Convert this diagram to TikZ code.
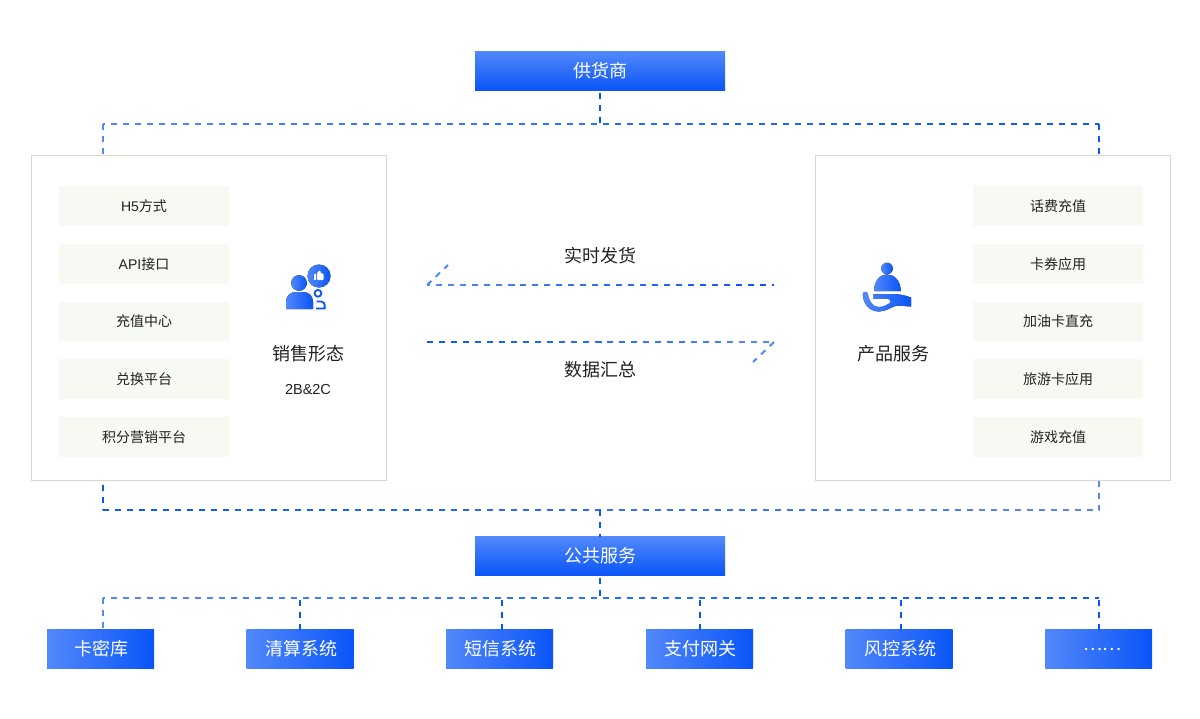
\documentclass[tikz,border=0pt]{standalone}
\usepackage{fontspec}
\setmainfont{Noto Sans CJK SC}
\newfontfamily\latinfont{Liberation Sans}
\usetikzlibrary{calc,positioning}
\definecolor{BlueDeep}{HTML}{0A55F8}
\definecolor{BlueLight}{HTML}{5288FA}
\definecolor{PanelLine}{HTML}{D8D8C8}
\definecolor{ItemFill}{HTML}{F7F9F3}
\definecolor{InkDark}{HTML}{222222}
% dashed line cut in short pieces, colour running from #5 to #4; #3 is its length
\newcommand{\gradline}[6][0]{%
  \foreach \i [evaluate=\i as \t using {\i/8}, evaluate=\i as \p using {(\i-.5)*12.5}, remember=\t as \s (initially 0)] in {1,...,8}
    {\colorlet{segcol}{#6!\p!#5}\pgfmathsetmacro\ph{#1+\s*#4}\draw[dashline,segcol,dash phase=\ph pt] ($(#2)!\s!(#3)$)--($(#2)!\t!(#3)$);}}
\begin{document}
\begin{tikzpicture}[x=1pt,y=-1pt,node distance=18.15pt and 18pt,outer sep=0pt,
    dashline/.style={line width=2pt,dash pattern=on 6pt off 6pt},
    vbox/.style={minimum width=250pt,minimum height=39pt,inner sep=0pt,top color=BlueLight,bottom color=BlueDeep,text=white,font=\fontsize{18}{20}\selectfont},
    hbox/.style={minimum width=107pt,minimum height=39pt,inner sep=0pt,left color=BlueLight,right color=BlueDeep,text=white,font=\fontsize{18}{20}\selectfont,execute at begin node={\kern2.5pt}},
    panel/.style={draw=PanelLine,line width=1pt,fill=white,minimum width=355pt,minimum height=325pt,inner sep=0pt},
    item/.style={fill=ItemFill,minimum width=169.6pt,minimum height=39.6pt,inner sep=0pt,text=InkDark,font=\fontsize{14}{16}\selectfont},
    title/.style={text=InkDark,inner sep=0pt,font=\fontsize{18}{20}\selectfont},
    iconfill/.style={left color=BlueLight,right color=BlueDeep}]
  \useasboundingbox[fill=white] (0,0) rectangle (1200,718);
  % boxes
  \node[vbox] (supplier) at (600,71) {供货商};
  \node[vbox] (public) at (600,556) {公共服务};
  \node[panel] (sales) at (209,318) {};
  \node[panel] (product) at (993,318) {};
  % left column
  \node[item] (h5) at (144,206) {{\latinfont H5}方式};
  \node[item,below=of h5] (api) {{\latinfont API}接口};
  \node[item,below=of api] (center) {充值中心};
  \node[item,below=of center] (exchange) {兑换平台};
  \node[item,below=of exchange] (points) {积分营销平台};
  % right column
  \node[item] (phone) at (1058,206) {话费充值};
  \node[item,below=of phone] (coupon) {卡券应用};
  \node[item,below=of coupon] (fuel) {加油卡直充};
  \node[item,below=of fuel] (travel) {旅游卡应用};
  \node[item,below=of travel] (game) {游戏充值};
  % labels
  \node[title] (salestitle) at (308,354) {销售形态};
  \node[text=InkDark,inner sep=0pt,font=\fontsize{14.5}{16}\selectfont\latinfont] (salesmode) at (308,390) {2B\&2C};
  \node[title] (producttitle) at (893,354) {产品服务};
  \node[title] (delivery) at (600,256) {实时发货};
  \node[title] (summary) at (600,370) {数据汇总};
  % bottom row
  \node[hbox] (card) at (100.5,649) {卡密库};
  \node[hbox] (clearing) at (300,649) {清算系统};
  \node[hbox] (sms) at (499.5,649) {短信系统};
  \node[hbox] (pay) at (699.5,649) {支付网关};
  \node[hbox] (risk) at (899,649) {风控系统};
  \node[hbox] (more) at (1098.5,649) {\kern5.5pt\raisebox{-4pt}{……}};
  % bus ends
  \coordinate (topL) at (102.7,124);
  \coordinate (topR) at (1099,124);
  \coordinate (midL) at (102.7,510);
  \coordinate (midR) at (1099,510);
  \coordinate (botL) at (102.7,598);
  \coordinate (botR) at (1099,598);
  \coordinate (smsdrop) at (502,598);
  \coordinate (riskdrop) at (901,598);
  \coordinate (sendL) at (427,285);
  \coordinate (sendR) at (774,285);
  \coordinate (sendT) at (448,265);
  \coordinate (backL) at (427,342);
  \coordinate (backR) at (774,342);
  \coordinate (backT) at (753,362);
  % connectors
  \draw[dashline,BlueDeep,shorten <=2pt] (supplier.south)--(supplier.south|-topL);
  \gradline[4]{topL}{topR}{996.3}{BlueLight}{BlueDeep}
  \draw[dashline,BlueLight] (topL)--(topL|-sales.north);
  \draw[dashline,BlueDeep] (topR)--(topR|-product.north);
  \draw[dashline,BlueDeep] ($(midL|-sales.south)+(0,4)$)--(midL);
  \draw[dashline,BlueLight] (midR|-product.south)--(midR);
  \gradline{midL}{midR}{996.3}{BlueDeep}{BlueLight}
  \draw[dashline,BlueDeep] (public.north|-midL)--(public.north);
  \draw[dashline,BlueDeep,shorten <=2pt] (public.south)--(public.south|-botL);
  \gradline[4]{botL}{botR}{996.3}{BlueLight}{BlueDeep}
  \draw[dashline,BlueLight] (botL)--(botL|-card.north);
  \draw[dashline,BlueDeep,shorten <=2pt] (clearing.north|-botL)--(clearing.north);
  \draw[dashline,BlueDeep,shorten <=2pt] (smsdrop)--(smsdrop|-sms.north);
  \draw[dashline,BlueDeep,shorten <=2pt] (pay.north|-botL)--(pay.north);
  \draw[dashline,BlueDeep,shorten <=2pt] (riskdrop)--(riskdrop|-risk.north);
  \draw[dashline,BlueDeep,shorten <=2pt] (botR)--(botR|-more.north);
  \gradline[3]{sendL}{sendR}{347}{BlueLight}{BlueDeep}
  \draw[dashline,BlueLight] (sendL)--(sendT);
  \gradline{backL}{backR}{347}{BlueDeep}{BlueLight}
  \draw[dashline,BlueLight] (backR)--(backT);
  % sales icon
  \fill[iconfill] (299,283) circle (7.8);
  \fill[iconfill] (286,309)--(286,302) .. controls (286,295) and (291,292) .. (296,292)--(303,292) .. controls (309,292) and (313,296) .. (313,302)--(313,309)--cycle;
  \fill[iconfill] (319,276) circle (11.5);
  \fill[white] (314,273.5) rectangle (316,280);
  \fill[white,rounded corners=1pt] (316.8,280)--(316.8,273.5)--(319,270.5)--(320.5,270.5)--(320.5,273.3)--(323.5,273.3)--(323.5,280)--cycle;
  \draw[BlueDeep,line width=1.8pt] (318,293.3) circle (3.4);
  \draw[BlueDeep,line width=1.8pt] (316.5,301.5)--(321,301.5) .. controls (323.5,301.5) and (324.6,303.5) .. (324.6,305)--(324.6,308.5)--(316,308.5);
  % product icon
  \fill[iconfill] (887,268.5) circle (5.8);
  \fill[iconfill] (874,291) .. controls (874,281) and (880,274.5) .. (887.3,274.5) .. controls (894.5,274.5) and (900.7,281) .. (900.7,291)--cycle;
  \fill[iconfill] (862.8,294.5) .. controls (862.8,291) and (867.5,291) .. (868,294)--(873,294.5)--(893,294) .. controls (898,294) and (904,295) .. (911,297.5)--(911,306.5)--(897,305.5) .. controls (891,307) and (886,311.5) .. (879,311.5) .. controls (868,311.5) and (863,302) .. (862.8,294.5)--cycle;
  \fill[white] (868,293) .. controls (869,301) and (873,306.8) .. (879,306.8) .. controls (883,306.8) and (887,304.5) .. (890,302.5) .. controls (891.2,300.5) and (889.5,299) .. (887,299)--(873,299)--(873,293)--cycle;
\end{tikzpicture}
\end{document}
